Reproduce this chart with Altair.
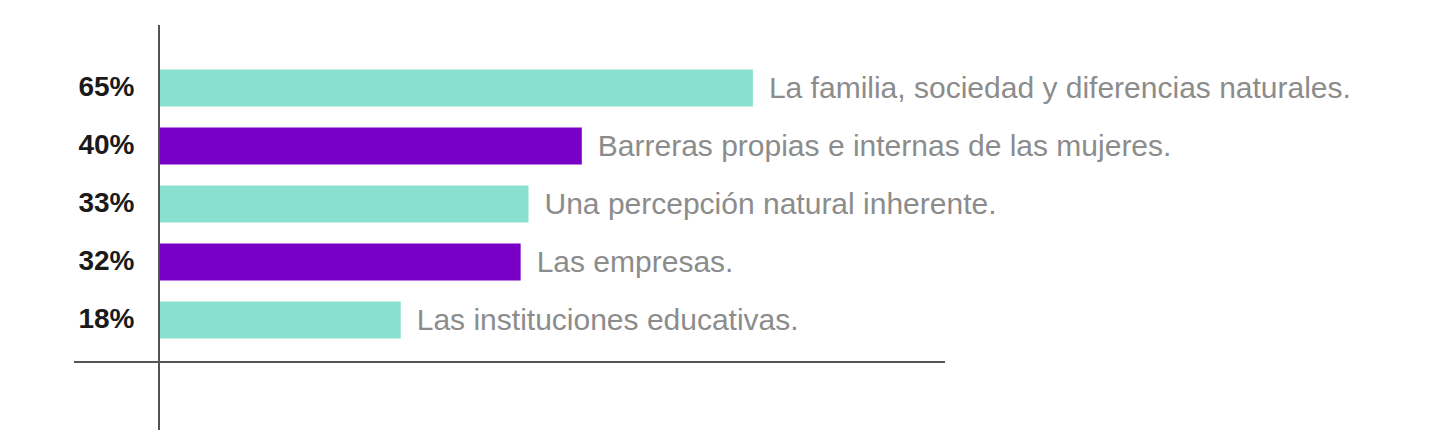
import altair as alt
import pandas as pd

categories = [
    "La familia, sociedad y diferencias naturales.",
    "Barreras propias e internas de las mujeres.",
    "Una percepción natural inherente.",
    "Las empresas.",
    "Las instituciones educativas.",
]
values = [65, 40, 33, 32, 18]
pct_labels = ["65%", "40%", "33%", "32%", "18%"]
groups = ["a", "b", "a", "b", "a"]
colors = ["#89E0D0", "#7800C6"]

df = pd.DataFrame({
    "categoria": categories,
    "valor": values,
    "pct": pct_labels,
    "grupo": groups,
})

W, H = 786, 290
FONT = "Liberation Sans"

y_enc = alt.Y(
    "pct:N",
    sort=None,
    scale=alt.Scale(paddingInner=0.36, paddingOuter=0.18),
    axis=alt.Axis(
        title=None, domain=False, ticks=False, labelPadding=25,
        labelFontSize=28, labelFontWeight="bold", labelColor="#1a1a1a",
        labelFont=FONT,
    ),
)
x_scale = alt.Scale(type="pow", exponent=0.7, domain=[0, 97], nice=False)

bars = alt.Chart(df).mark_bar().encode(
    x=alt.X("valor:Q", scale=x_scale, axis=None),
    y=y_enc,
    color=alt.Color("grupo:N", scale=alt.Scale(domain=["a", "b"], range=colors), legend=None),
)

labels = alt.Chart(df).mark_text(
    align="left", baseline="middle", dx=16, dy=1, fontSize=30, font=FONT,
    color="#8c8c8c",
).encode(
    x=alt.X("valor:Q", scale=x_scale),
    y=alt.Y("pct:N", sort=None),
    text="categoria:N",
)

vline = alt.Chart(df).mark_rule(color="#555555", strokeWidth=1.5).encode(
    x=alt.value(0), y=alt.value(-34), y2=alt.value(371)
)
hline = alt.Chart(df).mark_rule(color="#555555", strokeWidth=1.5).encode(
    x=alt.value(-85), x2=alt.value(786), y=alt.value(303)
)

chart = alt.layer(bars, labels, vline, hline).properties(
    width=W, height=H,
    autosize=alt.AutoSizeParams(type="none"),
    padding={"left": 151, "top": 51, "right": 495, "bottom": 85},
).configure(background="white").configure_view(stroke="transparent", strokeWidth=0)

chart.save("out.html", embed_options={"renderer": "svg", "actions": False})
